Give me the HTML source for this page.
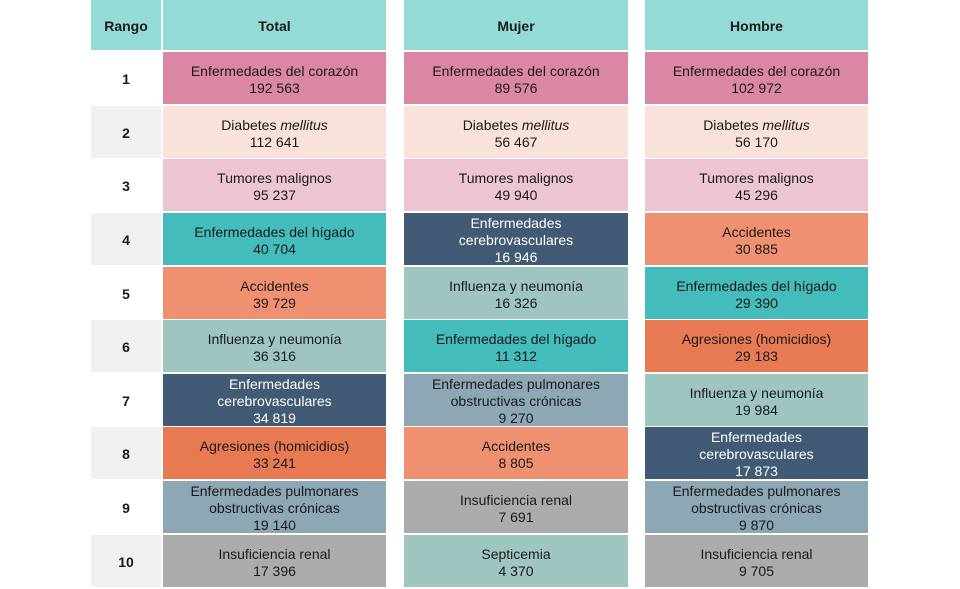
<!DOCTYPE html>
<html><head><meta charset="utf-8"><style>
body{margin:0;width:960px;height:589px;background:#fff;position:relative;overflow:hidden;font-family:"Liberation Sans",sans-serif;}
.c{position:absolute;display:flex;align-items:center;justify-content:center;text-align:center;font-size:14px;line-height:17px;color:#1a1a1a;box-sizing:border-box;padding-top:3px;}
.h{background:#94dbd8;font-weight:bold;top:0;height:50px;padding-top:2px;}
.r{font-weight:bold;left:91px;width:70px;}
.g{background:#f0f0f0}
.T{left:163px;width:223px}.M{left:404px;width:224px}.H{left:645px;width:223px}
.co{background:#dc86a5}.di{background:#f9e2d9}.tu{background:#ecc4d3}.hi{background:#45bcbc}
.ac{background:#ef9170}.in{background:#9ec5bf}.ce{background:#435a74;color:#fff}.ag{background:#e77a52}
.pu{background:#8ea7b4}.re{background:#ababab}
.r1{top:52px;height:52px}.r2{top:106px;height:52px}.r3{top:159px;height:52px}.r4{top:213px;height:52px}
.r5{top:267px;height:52px}.r6{top:320px;height:52px}.r7{top:374px;height:52px}.r8{top:427px;height:52px}
.r9{top:481px;height:52px}.r10{top:535px;height:52px}
</style></head><body>
<div class="c h" style="left:91px;width:70px">Rango</div>
<div class="c h T">Total</div><div class="c h M">Mujer</div><div class="c h H">Hombre</div>

<div class="c r r1">1</div><div class="c r g r2">2</div><div class="c r r3">3</div><div class="c r g r4">4</div><div class="c r r5">5</div>
<div class="c r g r6">6</div><div class="c r r7">7</div><div class="c r g r8">8</div><div class="c r r9">9</div><div class="c r g r10">10</div>

<div class="c T r1 co">Enfermedades del corazón<br>192 563</div>
<div class="c T r2 di"><span>Diabetes <i>mellitus</i><br>112 641</span></div>
<div class="c T r3 tu">Tumores malignos<br>95 237</div>
<div class="c T r4 hi">Enfermedades del hígado<br>40 704</div>
<div class="c T r5 ac">Accidentes<br>39 729</div>
<div class="c T r6 in">Influenza y neumonía<br>36 316</div>
<div class="c T r7 ce">Enfermedades<br>cerebrovasculares<br>34 819</div>
<div class="c T r8 ag">Agresiones (homicidios)<br>33 241</div>
<div class="c T r9 pu">Enfermedades pulmonares<br>obstructivas crónicas<br>19 140</div>
<div class="c T r10 re">Insuficiencia renal<br>17 396</div>

<div class="c M r1 co">Enfermedades del corazón<br>89 576</div>
<div class="c M r2 di"><span>Diabetes <i>mellitus</i><br>56 467</span></div>
<div class="c M r3 tu">Tumores malignos<br>49 940</div>
<div class="c M r4 ce">Enfermedades<br>cerebrovasculares<br>16 946</div>
<div class="c M r5 in">Influenza y neumonía<br>16 326</div>
<div class="c M r6 hi">Enfermedades del hígado<br>11 312</div>
<div class="c M r7 pu">Enfermedades pulmonares<br>obstructivas crónicas<br>9 270</div>
<div class="c M r8 ac">Accidentes<br>8 805</div>
<div class="c M r9 re">Insuficiencia renal<br>7 691</div>
<div class="c M r10 in">Septicemia<br>4 370</div>

<div class="c H r1 co">Enfermedades del corazón<br>102 972</div>
<div class="c H r2 di"><span>Diabetes <i>mellitus</i><br>56 170</span></div>
<div class="c H r3 tu">Tumores malignos<br>45 296</div>
<div class="c H r4 ac">Accidentes<br>30 885</div>
<div class="c H r5 hi">Enfermedades del hígado<br>29 390</div>
<div class="c H r6 ag">Agresiones (homicidios)<br>29 183</div>
<div class="c H r7 in">Influenza y neumonía<br>19 984</div>
<div class="c H r8 ce">Enfermedades<br>cerebrovasculares<br>17 873</div>
<div class="c H r9 pu">Enfermedades pulmonares<br>obstructivas crónicas<br>9 870</div>
<div class="c H r10 re">Insuficiencia renal<br>9 705</div>
</body></html>
